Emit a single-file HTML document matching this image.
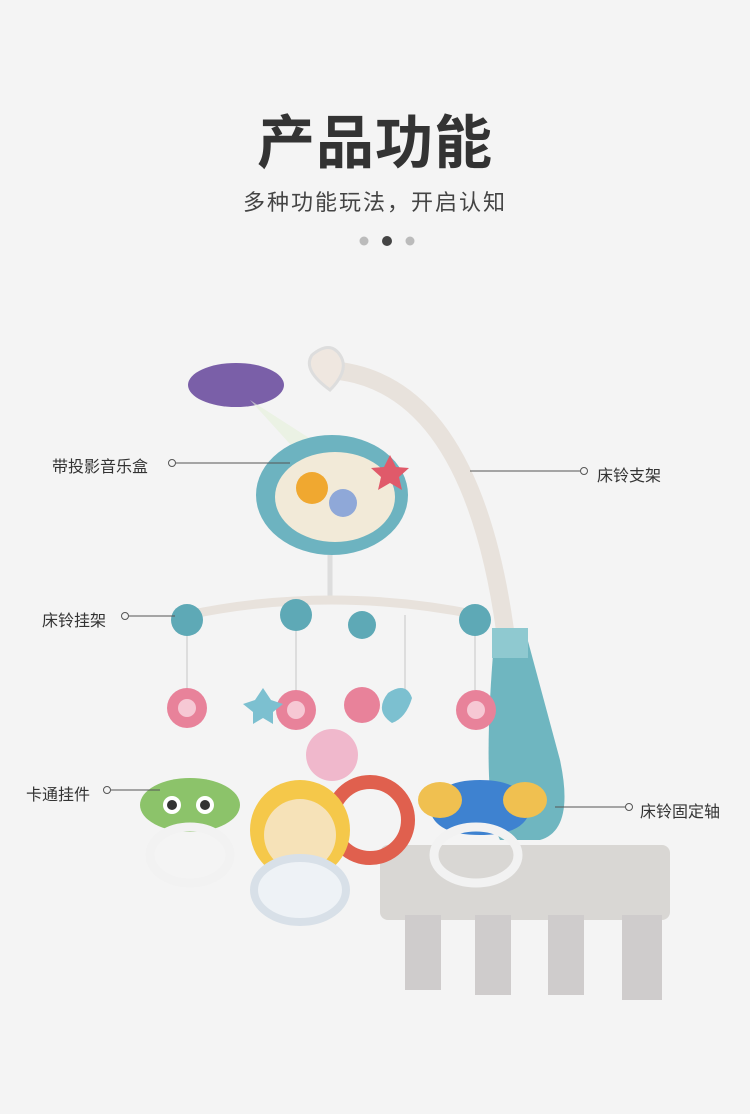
<!DOCTYPE html>
<html><head><meta charset="utf-8">
<style>
html,body{margin:0;padding:0;background:#f4f4f4;}
body{width:750px;height:1114px;position:relative;overflow:hidden;font-family:"Liberation Sans","Noto Sans CJK SC",sans-serif;}
.t{position:absolute;left:0;width:750px;text-align:center;color:#333;}
.lbl{position:absolute;font-size:16px;color:#333;white-space:nowrap;}
</style></head><body>
<div class="t" style="top:96px;font-size:58px;font-weight:bold;letter-spacing:1px;">产品功能</div>
<div class="t" style="top:185px;font-size:22px;color:#444;letter-spacing:2px;">多种功能玩法，开启认知</div>
<svg width="750" height="1114" style="position:absolute;left:0;top:0">
<circle cx="364" cy="241" r="4.5" fill="#bbb"/><circle cx="387" cy="241" r="5" fill="#444"/><circle cx="410" cy="241" r="4.5" fill="#bbb"/>
<rect x="380" y="845" width="290" height="75" rx="8" fill="#d9d7d4"/>
<g fill="#cfcccc"><rect x="405" y="915" width="36" height="75"/><rect x="475" y="915" width="36" height="80"/><rect x="548" y="915" width="36" height="80"/><rect x="622" y="915" width="40" height="85"/></g>
<path d="M330 370 Q470 380 505 630" stroke="#e8e2dc" stroke-width="18" fill="none"/>
<path d="M312 355 q18 -15 28 0 q10 15 -10 35 q-28 -20 -18 -35z" fill="#efe7e0" stroke="#ddd" stroke-width="3"/>
<path d="M495 630 L525 630 L560 760 Q575 830 540 840 L500 840 Q480 800 495 630z" fill="#6fb6c0"/>
<rect x="492" y="628" width="36" height="30" fill="#8fc9d0"/>
<ellipse cx="236" cy="385" rx="48" ry="22" fill="#7a5fa8"/>
<path d="M250 400 L320 445 L300 455z" fill="#e5f0d8" opacity=".6"/>
<ellipse cx="332" cy="495" rx="76" ry="60" fill="#6db3c0"/>
<ellipse cx="335" cy="497" rx="60" ry="45" fill="#f2ead8"/>
<circle cx="312" cy="488" r="16" fill="#f0a830"/><circle cx="343" cy="503" r="14" fill="#8fa8d8"/>
<path d="M390 455 l6 12 13 1 -10 9 3 13 -12 -7 -12 7 3 -13 -10 -9 13 -1z" fill="#e05a6a"/>
<line x1="330" y1="555" x2="330" y2="600" stroke="#ddd" stroke-width="5"/>
<path d="M188 615 Q330 585 478 615" stroke="#e8e2dc" stroke-width="9" fill="none"/>
<g fill="#5ea9b6"><circle cx="187" cy="620" r="16"/><circle cx="296" cy="615" r="16"/><circle cx="362" cy="625" r="14"/><circle cx="475" cy="620" r="16"/></g>
<g stroke="#ddd" stroke-width="2"><line x1="187" y1="636" x2="187" y2="690"/><line x1="296" y1="631" x2="296" y2="690"/><line x1="475" y1="636" x2="475" y2="690"/><line x1="405" y1="615" x2="405" y2="690"/></g>
<g fill="#e8829a"><circle cx="187" cy="708" r="20"/><circle cx="296" cy="710" r="20"/><circle cx="362" cy="705" r="18"/><circle cx="476" cy="710" r="20"/></g>
<g fill="#f6c8d4"><circle cx="187" cy="708" r="9"/><circle cx="296" cy="710" r="9"/><circle cx="476" cy="710" r="9"/></g>
<circle cx="332" cy="755" r="26" fill="#f0b8cc"/>
<path d="M388 693 q18 -12 24 5 q-6 20 -20 25 q-18 -12 -4 -30z" fill="#7cc0d0"/>
<path d="M255 700 l8 -12 8 12 12 4 -10 8 0 12 -10 -6 -10 6 0 -12 -10 -8z" fill="#7cc0d0"/>
<ellipse cx="190" cy="805" rx="50" ry="27" fill="#8cc36a"/>
<circle cx="172" cy="805" r="9" fill="#fff"/><circle cx="205" cy="805" r="9" fill="#fff"/>
<circle cx="172" cy="805" r="5" fill="#333"/><circle cx="205" cy="805" r="5" fill="#333"/>
<ellipse cx="190" cy="855" rx="40" ry="28" fill="none" stroke="#f2f2f2" stroke-width="9"/>
<circle cx="370" cy="820" r="38" fill="none" stroke="#e0604e" stroke-width="14"/>
<circle cx="300" cy="830" r="50" fill="#f5c84a"/>
<circle cx="300" cy="835" r="36" fill="#f6e2b8"/>
<ellipse cx="300" cy="890" rx="46" ry="32" fill="#eef2f6" stroke="#d8e0e8" stroke-width="8"/>
<path d="M430 810 q5 -30 50 -30 q45 0 50 30 q-5 25 -50 25 q-45 0 -50 -25z" fill="#3e82d0"/>
<ellipse cx="440" cy="800" rx="22" ry="18" fill="#f0c050"/><ellipse cx="525" cy="800" rx="22" ry="18" fill="#f0c050"/>
<ellipse cx="476" cy="855" rx="42" ry="28" fill="none" stroke="#f2f2f2" stroke-width="9"/>
<g stroke="#555" stroke-width="1" fill="#f4f4f4">
<line x1="176" y1="463" x2="290" y2="463"/><circle cx="172" cy="463" r="3.5"/>
<line x1="470" y1="471" x2="580" y2="471"/><circle cx="584" cy="471" r="3.5"/>
<line x1="129" y1="616" x2="175" y2="616"/><circle cx="125" cy="616" r="3.5"/>
<line x1="111" y1="790" x2="160" y2="790"/><circle cx="107" cy="790" r="3.5"/>
<line x1="555" y1="807" x2="625" y2="807"/><circle cx="629" cy="807" r="3.5"/>
</g>
</svg>
<div class="lbl" style="left:52px;top:453px;">带投影音乐盒</div>
<div class="lbl" style="left:597px;top:462px;">床铃支架</div>
<div class="lbl" style="left:42px;top:607px;">床铃挂架</div>
<div class="lbl" style="left:26px;top:781px;">卡通挂件</div>
<div class="lbl" style="left:640px;top:798px;">床铃固定轴</div>
</body></html>
